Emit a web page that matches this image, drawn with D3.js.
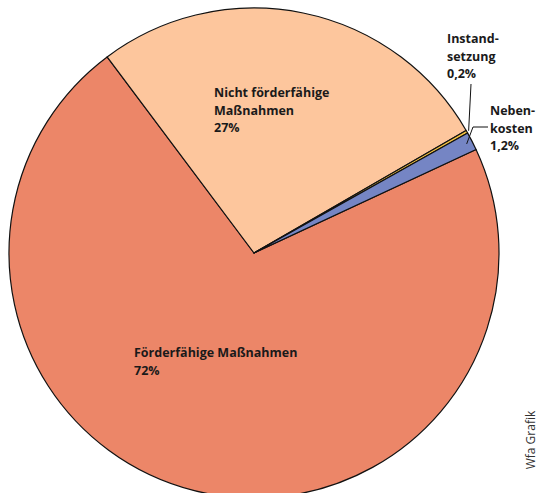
<!DOCTYPE html>
<html>
<head>
<meta charset="utf-8">
<script src="https://cdn.jsdelivr.net/npm/d3@7"></script>
<style>
  body { margin: 0; background: #fff; }
  svg { display: block; }
</style>
</head>
<body>
<div id="chart"></div>
<script>
// Chart data
const categories = ['Förderfähige Maßnahmen', 'Nicht förderfähige Maßnahmen', 'Instandsetzung', 'Nebenkosten'];
const shares = [72, 27, 0.2, 1.2];
const shareLabels = ['72%', '27%', '0,2%', '1,2%'];
const colors = ['#ec8668', '#fdc69d', '#f5c343', '#7585c4'];

const width = 538, height = 493;
const cx = 254, cy = 253, radius = 245;

const svg = d3.select('#chart')
    .append('svg')
    .attr('width', width)
    .attr('height', height);

const g = svg.append('g')
    .attr('transform', `translate(${cx}, ${cy})`);

// Nebenkosten ends at ~65deg, so start the first slice there
const start = 65 * Math.PI / 180;
const pie = d3.pie()
    .sort(null)
    .value(d => d)
    .startAngle(start)
    .endAngle(start + 2 * Math.PI);

const arc = d3.arc()
    .innerRadius(0)
    .outerRadius(radius);

const arcs = pie(shares);

g.selectAll('path')
    .data(arcs)
    .enter()
    .append('path')
    .attr('d', arc)
    .attr('fill', (d, i) => colors[i])
    .attr('stroke', '#111')
    .attr('stroke-width', 1.2)
    .attr('stroke-linejoin', 'round');

const font = '"Open Sans", sans-serif';

// Labels inside slices
function addLabel(x, y, lines) {
    const t = svg.append('text')
        .attr('x', x)
        .attr('y', y)
        .attr('font-family', font)
        .attr('font-size', '12.5px')
        .attr('font-weight', 700)
        .attr('fill', '#1a1a1a');
    lines.forEach((line, i) => {
        t.append('tspan')
            .attr('x', x)
            .attr('dy', i === 0 ? 0 : 17.5)
            .text(line);
    });
}

addLabel(214, 97, ['Nicht förderfähige', 'Maßnahmen', shareLabels[1]]);
addLabel(134, 357, ['Förderfähige Maßnahmen', shareLabels[0]]);
addLabel(447, 43, ['Instand-', 'setzung', shareLabels[2]]);
addLabel(490, 115, ['Neben-', 'kosten', shareLabels[3]]);

// Leader lines for the small slices
const edge = (d, r) => {
    const a = (d.startAngle + d.endAngle) / 2;
    return [cx + Math.sin(a) * r, cy - Math.cos(a) * r];
};
const pInst = edge(arcs[2], radius + 2);
svg.append('path')
    .attr('d', `M471,84 L${pInst[0]},${pInst[1]}`)
    .attr('fill', 'none')
    .attr('stroke', '#111')
    .attr('stroke-width', 1);

const pNeb = edge(arcs[3], radius - 6);
svg.append('path')
    .attr('d', `M488,127 L473,127 L${pNeb[0]},${pNeb[1]}`)
    .attr('fill', 'none')
    .attr('stroke', '#111')
    .attr('stroke-width', 1);

// Source credit
svg.append('text')
    .attr('transform', 'translate(535, 440) rotate(-90)')
    .attr('text-anchor', 'middle')
    .attr('font-family', font)
    .attr('font-size', '12px')
    .attr('fill', '#333')
    .text('Wfa Grafik');
</script>
</body>
</html>
